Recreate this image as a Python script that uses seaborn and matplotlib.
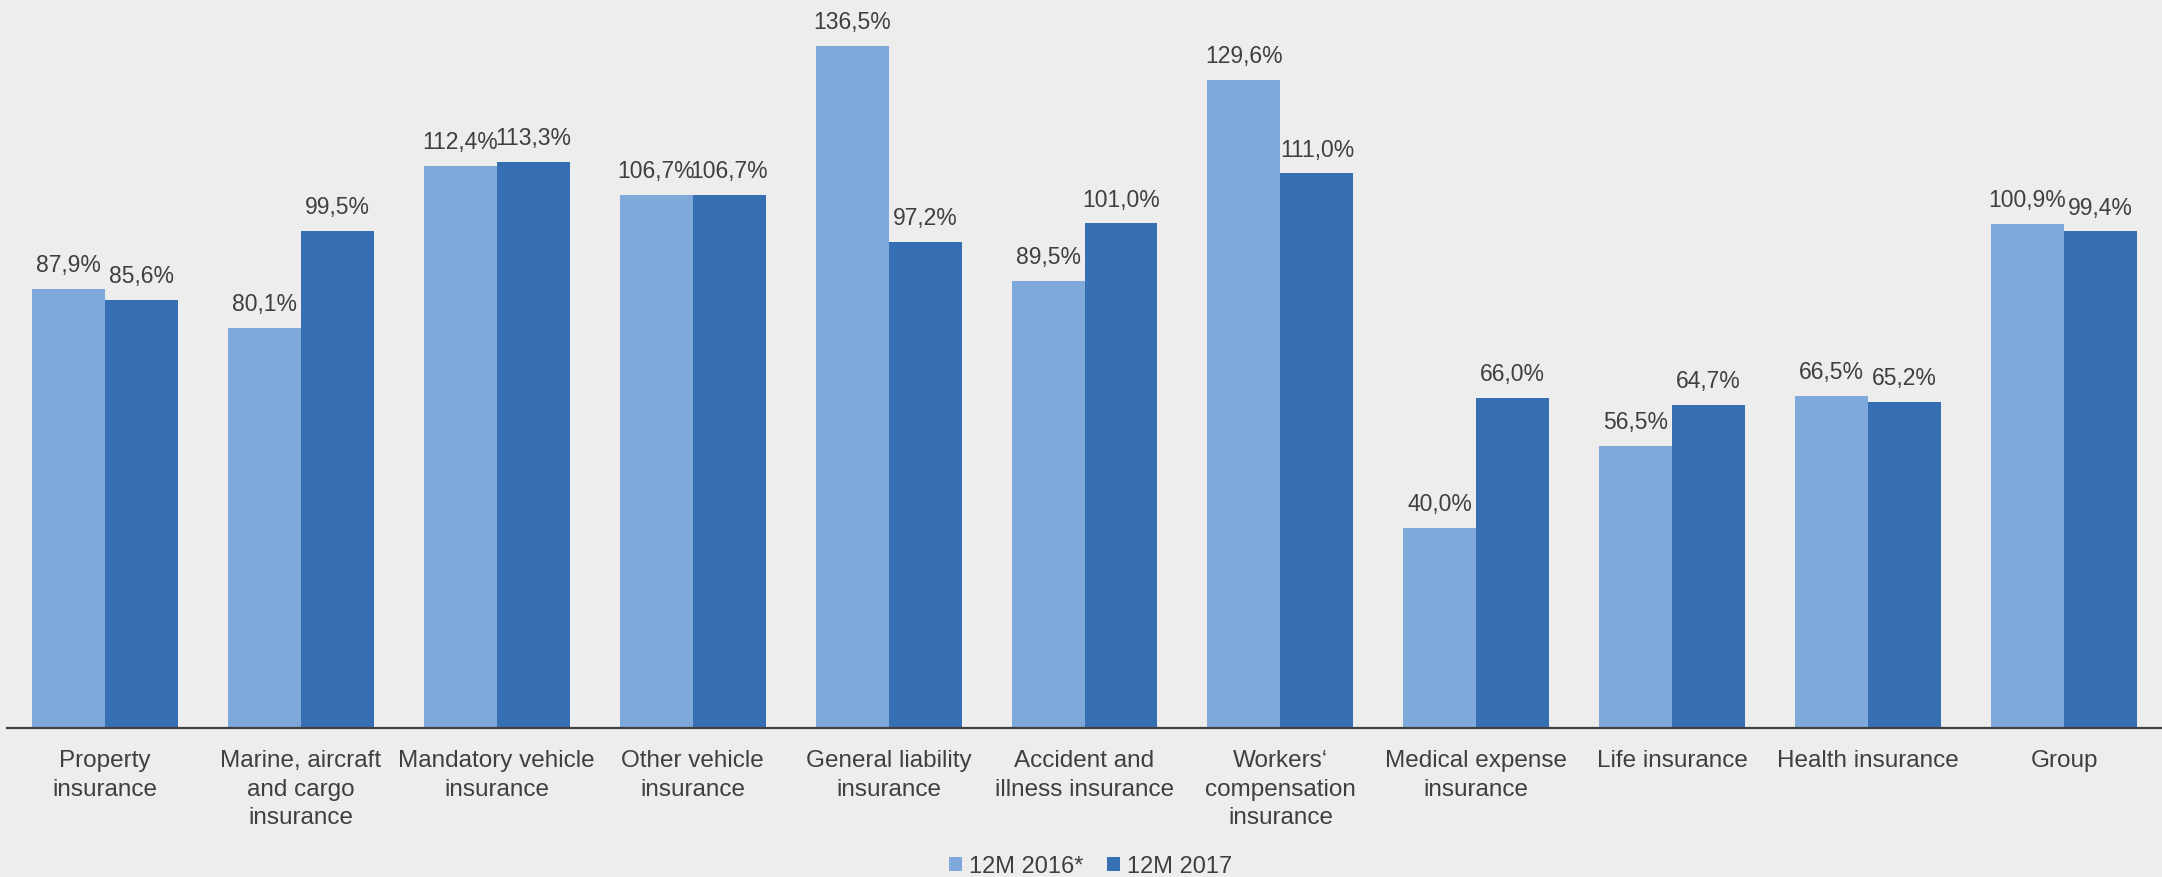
import matplotlib
matplotlib.use("Agg")
import matplotlib.pyplot as plt
import seaborn as sns
import pandas as pd
from matplotlib.patches import Patch

categories = ["Property\ninsurance", "Marine, aircraft\nand cargo\ninsurance",
              "Mandatory vehicle\ninsurance", "Other vehicle\ninsurance",
              "General liability\ninsurance", "Accident and\nillness insurance",
              "Workers‘\ncompensation\ninsurance", "Medical expense\ninsurance",
              "Life insurance", "Health insurance", "Group"]
series_names = ["12M 2016*", "12M 2017"]
values_2016 = [87.9, 80.1, 112.4, 106.7, 136.5, 89.5, 129.6, 40.0, 56.5, 66.5, 100.9]
values_2017 = [85.6, 99.5, 113.3, 106.7, 97.2, 101.0, 111.0, 66.0, 64.7, 65.2, 99.4]

colors = ["#7FA9DA", "#3670B2"]
bg = "#EDEDED"
txt = "#3F3F3F"

df = pd.DataFrame({
    "category": categories * 2,
    "series": [series_names[0]] * len(categories) + [series_names[1]] * len(categories),
    "value": values_2016 + values_2017,
})

sns.set_theme(style="white")
plt.rcParams['font.family'] = ['Liberation Sans', 'DejaVu Sans']

fig = plt.figure(figsize=(21.62, 8.78), dpi=100, facecolor=bg)
ax = fig.add_axes([7 / 2162, 1 - 729 / 878, 1 - 7 / 2162, 729 / 878])
ax.set_facecolor(bg)

sns.barplot(data=df, x="category", y="value", hue="series", palette=colors,
            width=0.745, gap=0, linewidth=0, saturation=1, ax=ax, legend=False,
            errorbar=None)

for cont, vals in zip(ax.containers, [values_2016, values_2017]):
    labels = [f"{v:.1f}".replace(".", ",") + "%" for v in vals]
    ax.bar_label(cont, labels=labels, padding=9, fontsize=16.5, color=txt)

ax.set_xlim(-0.5, len(categories) - 0.5)
ax.set_ylim(0, 145.8)
ax.set_xlabel("")
ax.set_ylabel("")
ax.set_yticks([])
ax.set_xticks(range(len(categories)))
ax.set_xticklabels(categories, linespacing=1.4, fontsize=17.5, color=txt)
ax.tick_params(axis="x", length=0, pad=15)
for s in ["top", "right", "left"]:
    ax.spines[s].set_visible(False)
ax.spines["bottom"].set_color("#404040")
ax.spines["bottom"].set_linewidth(1.6)

handles = [Patch(facecolor=c, edgecolor="none") for c in colors]
fig.legend(handles, series_names, loc="center", bbox_to_anchor=(1091 / 2162, 1 - 867 / 878),
           ncol=2, frameon=False, fontsize=17, labelcolor=txt,
           handlelength=0.55, handleheight=0.55, handletextpad=0.3, columnspacing=1.0,
           borderpad=0, borderaxespad=0)

fig.savefig("out.png", dpi=100, facecolor=bg)
